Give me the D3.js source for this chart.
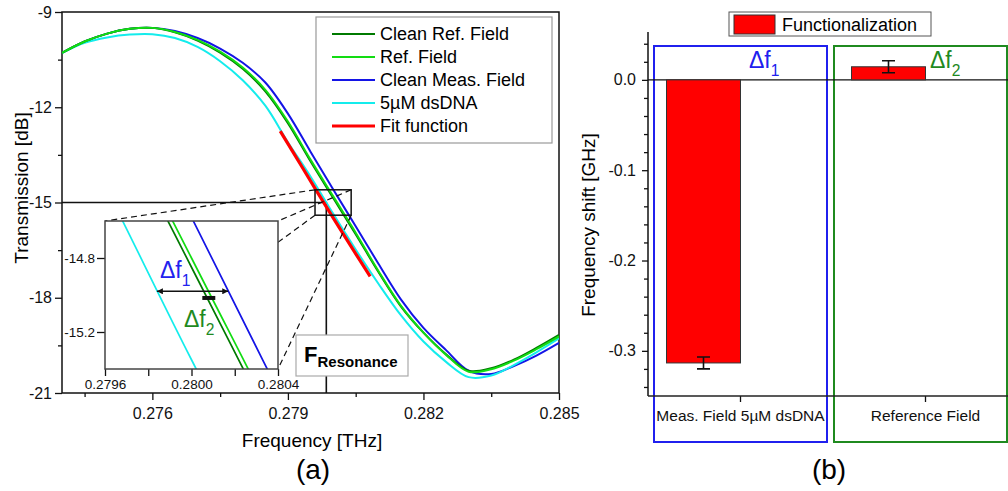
<!DOCTYPE html>
<meta charset="utf-8">
<script src="https://d3js.org/d3.v7.min.js"></script>
<style>
  body { margin: 0; background: #fff; }
  text { font-family: "Liberation Sans", Arial, sans-serif; }
</style>
<div id="my_dataviz"></div>
<script>

// ---- data: transmission spectra (a) ----
var freq = [0.2740, 0.2745, 0.2750, 0.2755, 0.2760, 0.2765, 0.2770, 0.2775, 0.2780, 0.2785,
            0.2790, 0.2795, 0.2800, 0.2805, 0.2810, 0.2815, 0.2820, 0.2825, 0.2830, 0.2835,
            0.2840, 0.2845, 0.2850];
var cleanRef  = [-10.29, -9.93, -9.68, -9.53, -9.50, -9.64, -9.90, -10.28, -10.79, -11.50,
                 -12.50, -13.70, -14.85, -16.00, -17.18, -18.27, -19.10, -19.78, -20.30, -20.22,
                 -19.95, -19.58, -19.17];
var refField  = [-10.29, -9.93, -9.68, -9.53, -9.50, -9.63, -9.88, -10.25, -10.75, -11.45,
                 -12.45, -13.65, -14.80, -15.95, -17.15, -18.25, -19.10, -19.80, -20.33, -20.25,
                 -19.98, -19.62, -19.22];
var cleanMeas = [-10.29, -9.93, -9.68, -9.53, -9.50, -9.60, -9.82, -10.15, -10.60, -11.22,
                 -12.20, -13.40, -14.58, -15.75, -16.92, -18.05, -18.95, -19.65, -20.30, -20.40,
                 -20.15, -19.82, -19.42];
var dsDNA     = [-10.29, -9.97, -9.80, -9.71, -9.70, -9.82, -10.10, -10.55, -11.15, -11.95,
                 -13.10, -14.18, -15.35, -16.48, -17.55, -18.55, -19.38, -20.02, -20.50, -20.45,
                 -20.12, -19.72, -19.28];
var fitFreq = [0.27883, 0.2793, 0.2798, 0.2803, 0.28082];
var fitT    = [-12.75, -13.85, -15.02, -16.16, -17.33];

var xMajor = [0.276, 0.279, 0.282, 0.285];
var xMinor = [0.2745, 0.2775, 0.2805, 0.2835];
var yMajor = [-9, -12, -15, -18, -21];
var yMinor = [-10.5, -13.5, -16.5, -19.5];

// resonance marker and zoom window
var fRes = 0.27985, tRes = -15;
var zoomF = [0.2796, 0.2804], zoomT = [-14.6, -15.4];
var insetXTicks = [0.2796, 0.2798, 0.2800, 0.2802, 0.2804];
var insetXLabels = [0.2796, 0.2800, 0.2804];
var insetYTicks = [-14.8, -15.2];
var df1 = [0.27984, 0.28017], df1T = -14.98;
var df2 = [0.28005, 0.28011], df2T = -15.016;

// ---- data: frequency shift (b) ----
var categories = ["Meas. Field 5\u00b5M dsDNA", "Reference Field"];
var shifts = [-0.3134, 0.0145];
var shiftErr = [0.0066, 0.0066];
var bMajor = [0.0, -0.1, -0.2, -0.3];
var bMinor = [0.04, 0.02, -0.02, -0.04, -0.06, -0.08, -0.12, -0.14, -0.16, -0.18,
              -0.22, -0.24, -0.26, -0.28, -0.32, -0.34];

var series = [
  {name: "Clean Meas. Field", color: "#1414e6", t: cleanMeas},
  {name: "5\u00b5M dsDNA", color: "#14ecec", t: dsDNA},
  {name: "Clean Ref. Field", color: "#007a00", t: cleanRef},
  {name: "Ref. Field", color: "#12dc12", t: refField}
];
var legendOrder = ["Clean Ref. Field", "Ref. Field", "Clean Meas. Field", "5\u00b5M dsDNA"];

var svg = d3.select("#my_dataviz")
  .append("svg")
    .attr("width", 1008)
    .attr("height", 491);

// ================= panel (a) =================
var x = d3.scaleLinear().domain([0.274, 0.285]).range([62, 559]);
var y = d3.scaleLinear().domain([-9, -21]).range([12, 393]);

svg.append("clipPath").attr("id", "clipMain")
  .append("rect").attr("x", 62).attr("y", 12).attr("width", 497).attr("height", 381);

function styleAxis(g, size) {
  g.select(".domain").remove();
  g.attr("font-family", "'Liberation Sans', Arial, sans-serif").attr("font-size", size);
  g.selectAll("line").attr("stroke", "#111").attr("stroke-width", 1.3);
  g.selectAll("text").attr("fill", "#111");
}

svg.append("g").attr("transform", "translate(0,393)")
  .call(d3.axisBottom(x).tickValues(xMajor).tickSize(7).tickPadding(8).tickFormat(d3.format(".3f")))
  .call(styleAxis, 16);
svg.append("g").attr("transform", "translate(0,393)")
  .call(d3.axisBottom(x).tickValues(xMinor).tickSize(4).tickFormat(""))
  .call(styleAxis, 16);
svg.append("g").attr("transform", "translate(62,0)")
  .call(d3.axisLeft(y).tickValues(yMajor).tickSize(7).tickPadding(3).tickFormat(function(d){ return String(d); }))
  .call(styleAxis, 16);
svg.append("g").attr("transform", "translate(62,0)")
  .call(d3.axisLeft(y).tickValues(yMinor).tickSize(4).tickFormat(""))
  .call(styleAxis, 16);

svg.append("rect")
  .attr("x", 62).attr("y", 12).attr("width", 497).attr("height", 381)
  .attr("fill", "none").attr("stroke", "#111").attr("stroke-width", 1.5);

// axis titles
svg.append("text")
  .attr("x", 312).attr("y", 447)
  .attr("text-anchor", "middle")
  .style("font-size", "19px")
  .text("Frequency [THz]");
svg.append("text")
  .attr("transform", "translate(28,188) rotate(-90)")
  .attr("text-anchor", "middle")
  .style("font-size", "19px")
  .text("Transmission [dB]");
svg.append("text")
  .attr("x", 313).attr("y", 479)
  .attr("text-anchor", "middle")
  .style("font-size", "28px")
  .text("(a)");

// resonance guide lines
svg.append("path")
  .attr("d", "M" + x(0.274) + "," + y(tRes) + "H" + x(fRes) + "V" + y(-21))
  .attr("fill", "none").attr("stroke", "#111").attr("stroke-width", 1.6);

// spectra
var line = d3.line()
  .x(function(d){ return x(d[0]); })
  .y(function(d){ return y(d[1]); })
  .curve(d3.curveCatmullRom.alpha(0.5));

var curves = svg.append("g").attr("clip-path", "url(#clipMain)");
series.forEach(function(s) {
  curves.append("path")
    .datum(freq.map(function(f, i){ return [f, s.t[i]]; }))
    .attr("d", line)
    .attr("fill", "none")
    .attr("stroke", s.color)
    .attr("stroke-width", 2);
});
curves.append("path")
  .datum(fitFreq.map(function(f, i){ return [f, fitT[i]]; }))
  .attr("d", line)
  .attr("fill", "none")
  .attr("stroke", "#ff0000")
  .attr("stroke-width", 3.2);

// zoom window in main plot
var zx0 = x(zoomF[0]), zx1 = x(zoomF[1]), zy0 = y(zoomT[0]), zy1 = y(zoomT[1]);
svg.append("rect")
  .attr("x", zx0).attr("y", zy0).attr("width", zx1 - zx0).attr("height", zy1 - zy0)
  .attr("fill", "none").attr("stroke", "#111").attr("stroke-width", 1.5);

// inset
var ix0 = 105, ix1 = 278, iy0 = 221, iy1 = 369;
var xi = d3.scaleLinear().domain(zoomF).range([ix0, ix1]);
var yi = d3.scaleLinear().domain(zoomT).range([iy0, iy1]);

var connectors = [[zx0, zy0, ix0, iy0], [zx1, zy0, ix1, iy0], [zx0, zy1, ix0, iy1], [zx1, zy1, ix1, iy1]];
svg.selectAll(".conn")
  .data(connectors)
  .enter()
  .append("line")
    .attr("x1", function(d){ return d[0]; })
    .attr("y1", function(d){ return d[1]; })
    .attr("x2", function(d){ return d[2]; })
    .attr("y2", function(d){ return d[3]; })
    .attr("stroke", "#111")
    .attr("stroke-width", 1.2)
    .attr("stroke-dasharray", "6,4");

svg.append("rect")
  .attr("x", ix0).attr("y", iy0).attr("width", ix1 - ix0).attr("height", iy1 - iy0)
  .attr("fill", "#fff");

svg.append("clipPath").attr("id", "clipInset")
  .append("rect").attr("x", ix0).attr("y", iy0).attr("width", ix1 - ix0).attr("height", iy1 - iy0);

var lineI = d3.line()
  .x(function(d){ return xi(d[0]); })
  .y(function(d){ return yi(d[1]); })
  .curve(d3.curveCatmullRom.alpha(0.5));

var insetCurves = svg.append("g").attr("clip-path", "url(#clipInset)");
series.forEach(function(s) {
  insetCurves.append("path")
    .datum(freq.map(function(f, i){ return [f, s.t[i]]; }))
    .attr("d", lineI)
    .attr("fill", "none")
    .attr("stroke", s.color)
    .attr("stroke-width", 1.7);
});

svg.append("g").attr("transform", "translate(0," + iy1 + ")")
  .call(d3.axisBottom(xi).tickValues(insetXTicks).tickSize(7).tickPadding(3)
    .tickFormat(function(d){ return insetXLabels.indexOf(d) >= 0 ? d.toFixed(4) : ""; }))
  .call(styleAxis, 13.5);
svg.append("g").attr("transform", "translate(" + ix0 + ",0)")
  .call(d3.axisLeft(yi).tickValues(insetYTicks).tickSize(8).tickPadding(2)
    .tickFormat(function(d){ return d.toFixed(1); }))
  .call(styleAxis, 13.5);

svg.append("rect")
  .attr("x", ix0).attr("y", iy0).attr("width", ix1 - ix0).attr("height", iy1 - iy0)
  .attr("fill", "none").attr("stroke", "#444").attr("stroke-width", 1.5);

// delta f arrows
var defs = svg.append("defs");
defs.append("marker")
  .attr("id", "arr")
  .attr("viewBox", "0 0 10 10")
  .attr("refX", 10).attr("refY", 5)
  .attr("markerWidth", 8).attr("markerHeight", 6)
  .attr("markerUnits", "userSpaceOnUse")
  .attr("orient", "auto-start-reverse")
  .append("path").attr("d", "M0,0L10,5L0,10z").attr("fill", "#111");

svg.append("line")
  .attr("x1", xi(df1[0])).attr("x2", xi(df1[1]))
  .attr("y1", yi(df1T)).attr("y2", yi(df1T))
  .attr("stroke", "#111").attr("stroke-width", 1.5)
  .attr("marker-start", "url(#arr)").attr("marker-end", "url(#arr)");
svg.append("line")
  .attr("x1", xi(df2[0])).attr("x2", xi(df2[1]))
  .attr("y1", yi(df2T)).attr("y2", yi(df2T))
  .attr("stroke", "#111").attr("stroke-width", 4);

function deltaLabel(px, py, sub, color, size) {
  var t = svg.append("text").attr("x", px).attr("y", py).attr("fill", color).style("font-size", size + "px");
  t.append("tspan").text("\u0394f");
  t.append("tspan").attr("dy", size * 0.33).style("font-size", (size * 0.68) + "px").text(sub);
}
deltaLabel(160, 278, "1", "#2222ee", 23);
deltaLabel(184, 327, "2", "#1f8a1f", 23);

// F resonance label
svg.append("rect")
  .attr("x", 296).attr("y", 335).attr("width", 112).attr("height", 41)
  .attr("fill", "#fff").attr("stroke", "#aaa").attr("stroke-width", 1.2);
var fr = svg.append("text").attr("x", 304).attr("y", 362).style("font-weight", "bold").style("font-size", "22px");
fr.append("tspan").text("F");
fr.append("tspan").attr("dy", 5).style("font-size", "15px").text("Resonance");

// legend (a)
svg.append("rect")
  .attr("x", 316).attr("y", 17).attr("width", 236).attr("height", 126)
  .attr("fill", "#fff").attr("stroke", "#999").attr("stroke-width", 1.2);
var legendItems = legendOrder.map(function(n){
  var s = series.filter(function(d){ return d.name == n; })[0];
  return {name: n, color: s.color, w: 2};
});
legendItems.push({name: "Fit function", color: "#ff0000", w: 3.2});
var leg = svg.selectAll(".legA")
  .data(legendItems)
  .enter()
  .append("g")
    .attr("transform", function(d, i){ return "translate(0," + (34 + i * 23) + ")"; });
leg.append("line")
  .attr("x1", 332).attr("x2", 375)
  .attr("stroke", function(d){ return d.color; })
  .attr("stroke-width", function(d){ return d.w; });
leg.append("text")
  .attr("x", 380).attr("y", 6)
  .style("font-size", "18px")
  .text(function(d){ return d.name; });

// ================= panel (b) =================
var yb = d3.scaleLinear().domain([-0.35, 0.053]).range([396, 32]);
var xb = d3.scaleBand().domain(categories).range([648, 1018]);
var barW = 74;

// group frames
var frameColors = ["#2020ee", "#1f8a1f"];
svg.selectAll(".frameB")
  .data(categories)
  .enter()
  .append("rect")
    .attr("x", function(d, i){ return i == 0 ? 654 : 834; })
    .attr("y", 46)
    .attr("width", 173)
    .attr("height", 396)
    .attr("fill", "none")
    .attr("stroke", function(d, i){ return frameColors[i]; })
    .attr("stroke-width", 2);

svg.append("g").attr("transform", "translate(648,0)")
  .call(d3.axisLeft(yb).tickValues(bMajor).tickSize(6).tickPadding(6)
    .tickFormat(function(d){ return d.toFixed(1); }))
  .call(styleAxis, 16);
svg.append("g").attr("transform", "translate(648,0)")
  .call(d3.axisLeft(yb).tickValues(bMinor).tickSize(4).tickFormat(""))
  .call(styleAxis, 16);
svg.append("line")
  .attr("x1", 648).attr("x2", 648).attr("y1", yb.range()[1]).attr("y2", yb.range()[0])
  .attr("stroke", "#111").attr("stroke-width", 1.5);

svg.append("g").attr("transform", "translate(0,396)")
  .call(d3.axisBottom(xb).tickSize(6).tickPadding(8))
  .call(styleAxis, 15.5);
svg.append("line")
  .attr("x1", 648).attr("x2", 1008).attr("y1", 396).attr("y2", 396)
  .attr("stroke", "#222").attr("stroke-width", 1.5);
svg.append("line")
  .attr("x1", 648).attr("x2", 1008).attr("y1", yb(0)).attr("y2", yb(0))
  .attr("stroke", "#111").attr("stroke-width", 1.3);

// bars
svg.selectAll(".bar")
  .data(categories)
  .enter()
  .append("rect")
    .attr("x", function(d){ return xb(d) + xb.bandwidth() / 2 - barW; })
    .attr("y", function(d, i){ return yb(Math.max(0, shifts[i])); })
    .attr("width", barW)
    .attr("height", function(d, i){ return Math.abs(yb(shifts[i]) - yb(0)); })
    .attr("fill", "#ff0000")
    .attr("stroke", "#333")
    .attr("stroke-width", 1);

// error bars
var eb = svg.selectAll(".err")
  .data(categories)
  .enter()
  .append("g")
    .attr("transform", function(d){ return "translate(" + (xb(d) + xb.bandwidth() / 2 - barW / 2) + ",0)"; });
eb.append("path")
  .attr("d", function(d, i){
    var a = yb(shifts[i] + shiftErr[i]), b = yb(shifts[i] - shiftErr[i]);
    return "M-6.5," + a + "H6.5M0," + a + "V" + b + "M-6.5," + b + "H6.5";
  })
  .attr("fill", "none").attr("stroke", "#111").attr("stroke-width", 1.6);

deltaLabel(749, 68, "1", "#2020ee", 23);
deltaLabel(930, 68, "2", "#1f8a1f", 23);

// legend (b)
svg.append("rect")
  .attr("x", 729).attr("y", 12).attr("width", 202).attr("height", 24)
  .attr("fill", "#fff").attr("stroke", "#555").attr("stroke-width", 1);
svg.append("rect")
  .attr("x", 734).attr("y", 15).attr("width", 41).attr("height", 19)
  .attr("fill", "#ff0000").attr("stroke", "#333").attr("stroke-width", 1);
svg.append("text")
  .attr("x", 782).attr("y", 31)
  .style("font-size", "18px")
  .text("Functionalization");

svg.append("text")
  .attr("transform", "translate(595,225) rotate(-90)")
  .attr("text-anchor", "middle")
  .style("font-size", "19px")
  .text("Frequency shift [GHz]");
svg.append("text")
  .attr("x", 829).attr("y", 479)
  .attr("text-anchor", "middle")
  .style("font-size", "28px")
  .text("(b)");

</script>
